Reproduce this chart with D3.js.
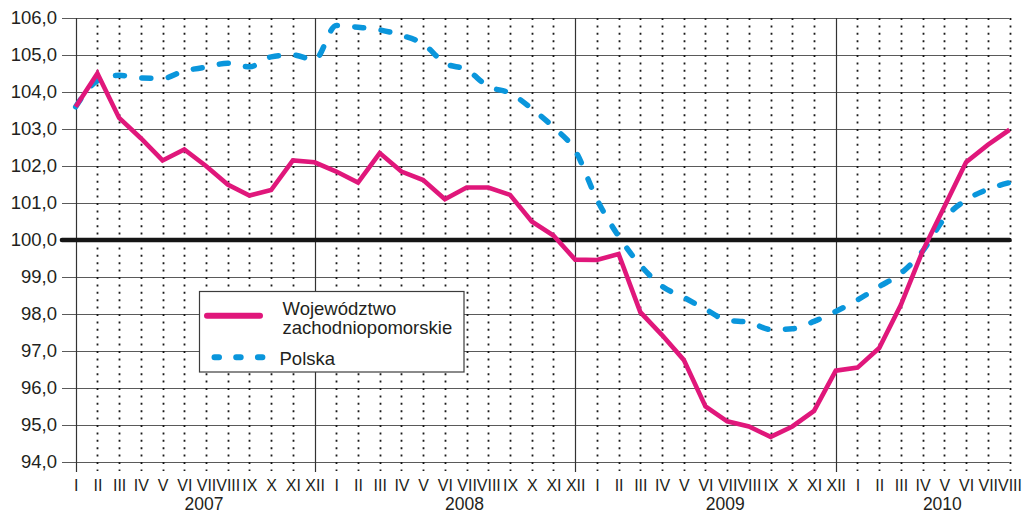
<!DOCTYPE html>
<html>
<head>
<meta charset="utf-8">
<title>Wojewodztwo zachodniopomorskie - Polska</title>
<style>
    body { margin: 0; background: #fff; }
    svg { display: block; font-family: "Liberation Sans", Arial, sans-serif; }
    .axis text { fill: #231f20; }
    .axis path { display: none; }
</style>
</head>
<body>
<svg id="chart" width="1026" height="514"></svg>
<script src="https://cdnjs.cloudflare.com/ajax/libs/d3/7.8.5/d3.min.js"></script>
<script>
// ===== data =====
var romanMonths = ['I','II','III','IV','V','VI','VII','VIII','IX','X','XI','XII'];
var yearLabels = ['2007', '2008', '2009', '2010'];
var yearMonthCounts = [12, 12, 12, 8];
var yTicks = [94, 95, 96, 97, 98, 99, 100, 101, 102, 103, 104, 105, 106];

var regional = [
    103.6, 104.5, 103.3, 102.75, 102.15, 102.45, 102.0, 101.5, 101.2, 101.35, 102.15, 102.1,
    101.85, 101.55, 102.35, 101.85, 101.62, 101.1, 101.42, 101.42, 101.22, 100.5, 100.12, 99.47,
    99.46, 99.62, 98.05, 97.43, 96.76, 95.5, 95.1, 94.96, 94.68, 94.96, 95.38, 96.47,
    96.55, 97.08, 98.25, 99.7, 100.9, 102.1, 102.57, 102.98
];
var poland = [
    103.6, 104.3, 104.45, 104.38, 104.37, 104.57, 104.67, 104.78, 104.68, 104.95, 105.0, 104.87,
    105.8, 105.75, 105.68, 105.53, 105.3, 104.78, 104.6, 104.15, 103.97, 103.55, 103.05, 102.42,
    101.1, 100.1, 99.32, 98.75, 98.45, 98.13, 97.83, 97.78, 97.58, 97.6, 97.8, 98.07,
    98.38, 98.74, 99.1, 99.7, 100.58, 101.08, 101.37, 101.55
];
var seriesNames = ['Województwo', 'zachodniopomorskie', 'Polska'];

// ===== colours =====
var magenta = '#e0177b';
var blue = '#0a96dc';

// ===== month list =====
var monthLabels = [];
yearMonthCounts.forEach(function (n) {
    for (var m = 0; m < n; m++) monthLabels.push(romanMonths[m]);
});
var nMonths = monthLabels.length;

// ===== scales =====
var x = d3.scaleLinear().domain([0, nMonths - 1]).range([75.7, 1009.5]);
var y = d3.scaleLinear().domain([94, 106]).range([462, 18]);
var step = x(1) - x(0);

var svg = d3.select('#chart');

// horizontal grid
svg.append('g').selectAll('line')
    .data(yTicks.filter(function (d) { return d !== 100; }))
    .join('line')
    .attr('x1', 62).attr('x2', x(nMonths - 1))
    .attr('y1', function (d) { return Math.round(y(d)) + 0.5; })
    .attr('y2', function (d) { return Math.round(y(d)) + 0.5; })
    .attr('stroke', '#5a5a5a')
    .attr('stroke-width', 1);

// vertical month lines: solid at year start / December, dotted otherwise
var solidIdx = [0];
var acc = 0;
yearMonthCounts.forEach(function (n) { acc += n; if (acc < nMonths) solidIdx.push(acc - 1); });

svg.append('g').selectAll('line')
    .data(d3.range(nMonths))
    .join('line')
    .attr('x1', function (d) { return Math.round(x(d)) + 0.5; })
    .attr('x2', function (d) { return Math.round(x(d)) + 0.5; })
    .attr('y1', y(106))
    .attr('y2', function (d) { return solidIdx.indexOf(d) >= 0 ? 472 : 471; })
    .attr('stroke', function (d) { return solidIdx.indexOf(d) >= 0 ? '#333' : '#1a1a1a'; })
    .attr('stroke-width', function (d) { return solidIdx.indexOf(d) >= 0 ? 1.2 : 1.8; })
    .attr('stroke-dasharray', function (d) { return solidIdx.indexOf(d) >= 0 ? null : '2,5.4'; });

// base line 100
svg.append('line')
    .attr('x1', 62).attr('x2', x(nMonths - 1))
    .attr('y1', y(100)).attr('y2', y(100))
    .attr('stroke', '#151515')
    .attr('stroke-width', 4.6)
    .attr('stroke-linecap', 'round');

// y axis labels
var yAxis = d3.axisLeft(y)
    .tickValues(yTicks)
    .tickSize(0)
    .tickPadding(5)
    .tickFormat(function (d) { return d3.format('.1f')(d).replace('.', ','); });
svg.append('g').attr('class', 'axis')
    .attr('transform', 'translate(57,0)')
    .call(yAxis)
    .selectAll('text')
    .attr('x', 0)
    .style('font-size', '18.5px');

// x axis month labels
var xAxis = d3.axisBottom(x)
    .tickValues(d3.range(nMonths))
    .tickSize(0)
    .tickPadding(17.5)
    .tickFormat(function (i) { return monthLabels[i]; });
svg.append('g').attr('class', 'axis')
    .attr('transform', 'translate(0,462)')
    .call(xAxis)
    .selectAll('text')
    .style('font-size', '16px');

// year labels
var startIdx = 0;
var yearPos = yearMonthCounts.map(function (n) {
    var c = x(startIdx) + n / 2 * step;
    startIdx += n;
    return c;
});
svg.append('g').selectAll('text')
    .data(yearLabels)
    .join('text')
    .attr('x', function (d, i) { return yearPos[i] - 2; })
    .attr('y', 510)
    .attr('text-anchor', 'middle')
    .attr('fill', '#231f20')
    .style('font-size', '17.5px')
    .text(function (d) { return d; });

// series lines
var lineStraight = d3.line()
    .x(function (d, i) { return x(i); })
    .y(function (d) { return y(d); });
var lineSmooth = d3.line()
    .curve(d3.curveMonotoneX)
    .x(function (d, i) { return x(i); })
    .y(function (d) { return y(d); });

svg.append('path')
    .attr('d', lineSmooth(poland))
    .attr('fill', 'none')
    .attr('stroke', blue)
    .attr('stroke-width', 5.5)
    .attr('stroke-linecap', 'round')
    .attr('stroke-dasharray', '9,17.5');

svg.append('path')
    .attr('d', lineStraight(regional))
    .attr('fill', 'none')
    .attr('stroke', magenta)
    .attr('stroke-width', 4.6)
    .attr('stroke-linejoin', 'miter');

// legend
var lg = svg.append('g');
lg.append('rect')
    .attr('x', 199.5).attr('y', 291.5)
    .attr('width', 264.5).attr('height', 80.5)
    .attr('fill', '#fff')
    .attr('stroke', '#3c3c3c')
    .attr('stroke-width', 1.2);
lg.append('line')
    .attr('x1', 207).attr('x2', 260)
    .attr('y1', 315.7).attr('y2', 315.7)
    .attr('stroke', magenta)
    .attr('stroke-width', 6)
    .attr('stroke-linecap', 'round');
lg.append('line')
    .attr('x1', 214.5).attr('x2', 263)
    .attr('y1', 357.3).attr('y2', 357.3)
    .attr('stroke', blue)
    .attr('stroke-width', 6)
    .attr('stroke-linecap', 'round')
    .attr('stroke-dasharray', '4.5,17.2');
lg.selectAll('text')
    .data(seriesNames)
    .join('text')
    .attr('x', function (d, i) { return i < 2 ? 282.5 : 279.5; })
    .attr('y', function (d, i) { return [314.5, 334, 365][i]; })
    .attr('fill', '#231f20')
    .style('font-size', '18.5px')
    .text(function (d) { return d; });
</script>
</body>
</html>
